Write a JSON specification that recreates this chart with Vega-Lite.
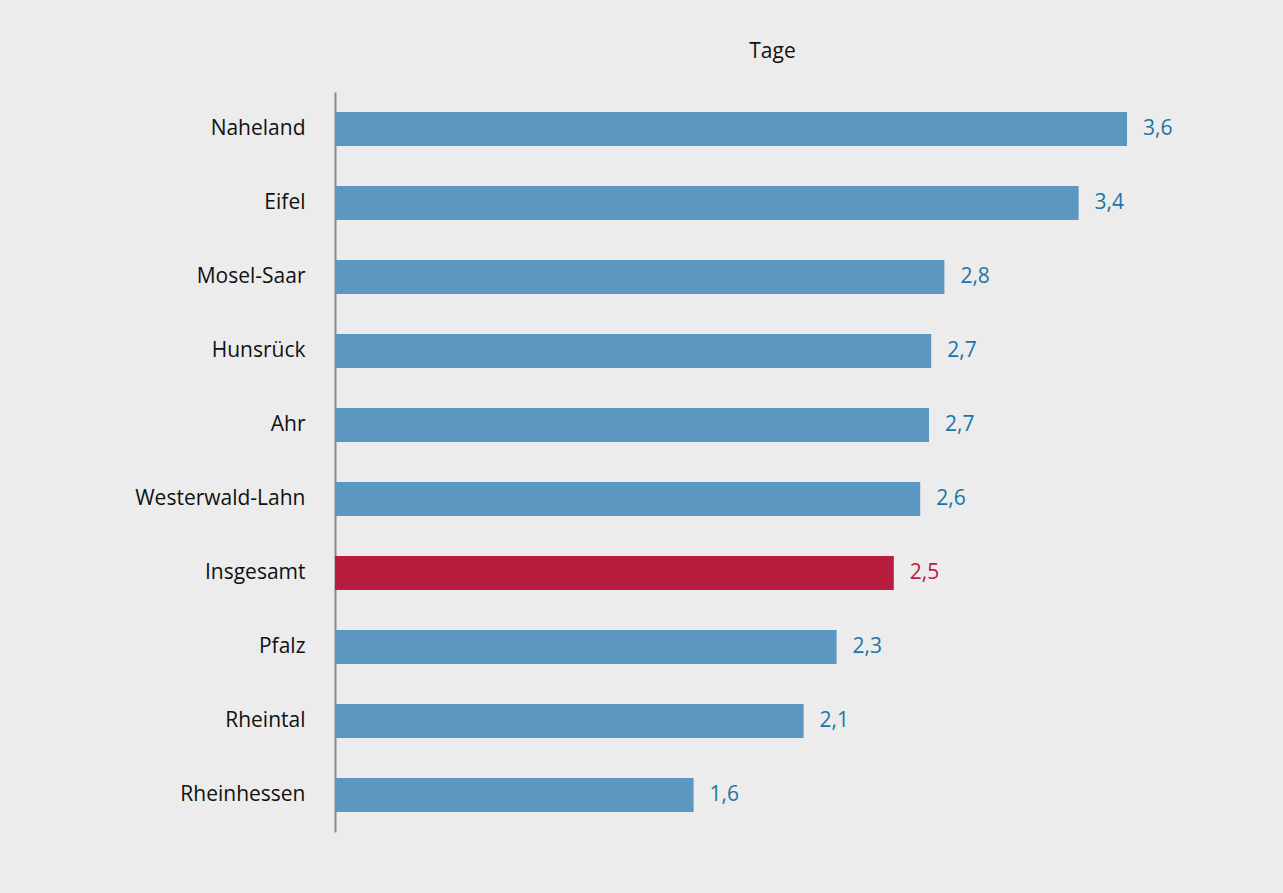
{
  "$schema": "https://vega.github.io/schema/vega-lite/v6.json",
  "width": 880,
  "height": 740,
  "autosize": "none",
  "padding": {"left": 335, "top": 92, "right": 68, "bottom": 61},
  "background": "#ececec",
  "config": {
    "view": {"stroke": null},
    "font": "Open Sans",
    "axis": {"labelFont": "Open Sans", "titleFont": "Open Sans"}
  },
  "data": {
    "values": [
      {"region": "Naheland", "tage": 3.6, "label": "3,6", "typ": "Region"},
      {"region": "Eifel", "tage": 3.38, "label": "3,4", "typ": "Region"},
      {"region": "Mosel-Saar", "tage": 2.77, "label": "2,8", "typ": "Region"},
      {"region": "Hunsrück", "tage": 2.71, "label": "2,7", "typ": "Region"},
      {"region": "Ahr", "tage": 2.7, "label": "2,7", "typ": "Region"},
      {"region": "Westerwald-Lahn", "tage": 2.66, "label": "2,6", "typ": "Region"},
      {"region": "Insgesamt", "tage": 2.54, "label": "2,5", "typ": "Insgesamt"},
      {"region": "Pfalz", "tage": 2.28, "label": "2,3", "typ": "Region"},
      {"region": "Rheintal", "tage": 2.13, "label": "2,1", "typ": "Region"},
      {"region": "Rheinhessen", "tage": 1.63, "label": "1,6", "typ": "Region"}
    ]
  },
  "encoding": {
    "y": {
      "field": "region",
      "type": "nominal",
      "sort": null,
      "scale": {"paddingInner": 0.54, "paddingOuter": 0.27},
      "axis": {
        "title": null,
        "ticks": false,
        "labelPadding": 30,
        "labelFontSize": 21,
        "labelColor": "#111111",
        "domainColor": "#8a8a8a",
        "domainWidth": 2
      }
    },
    "x": {
      "field": "tage",
      "type": "quantitative",
      "scale": {"domain": [0, 4]},
      "axis": {
        "orient": "top",
        "title": "Tage",
        "titleFontSize": 21,
        "titleFontWeight": "normal",
        "titleColor": "#111111",
        "titlePadding": 31,
        "titleX": 437,
        "labels": false,
        "ticks": false,
        "grid": false,
        "domain": false
      }
    }
  },
  "layer": [
    {
      "mark": {"type": "bar"},
      "encoding": {
        "color": {
          "field": "typ",
          "type": "nominal",
          "scale": {"domain": ["Region", "Insgesamt"], "range": ["#5b97c0", "#b81c3f"]},
          "legend": null
        }
      }
    },
    {
      "mark": {"type": "text", "align": "left", "baseline": "middle", "dx": 16, "fontSize": 21},
      "encoding": {
        "text": {"field": "label"},
        "color": {
          "field": "typ",
          "type": "nominal",
          "scale": {"domain": ["Region", "Insgesamt"], "range": ["#1b76a8", "#b81c3f"]},
          "legend": null
        }
      }
    }
  ],
  "resolve": {"scale": {"color": "independent"}}
}
